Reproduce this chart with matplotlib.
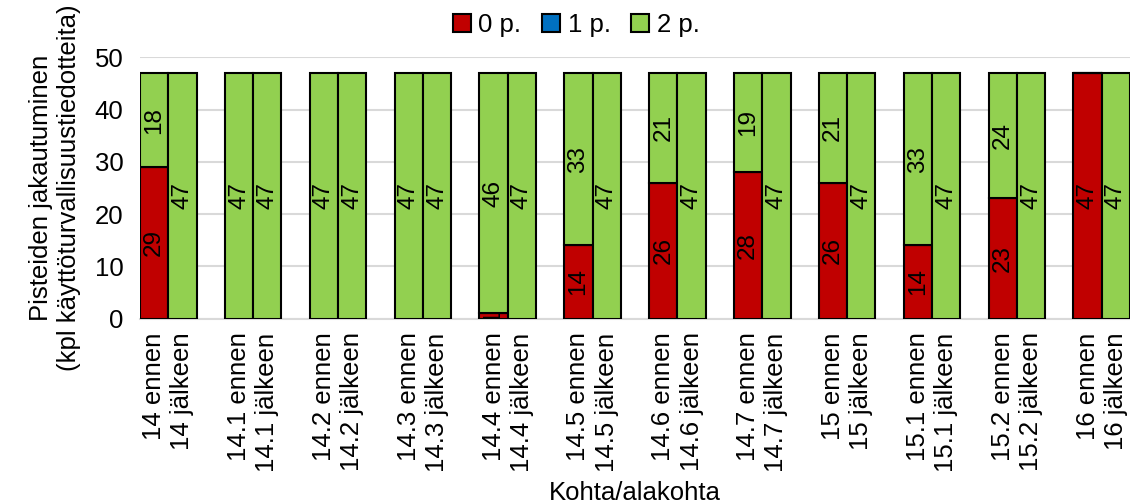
import numpy as np
import matplotlib.pyplot as plt

plt.rcParams['font.family'] = ['Liberation Sans', 'DejaVu Sans']

groups = ['14', '14.1', '14.2', '14.3', '14.4', '14.5', '14.6', '14.7',
          '15', '15.1', '15.2', '16']
# ennen (before) values
ennen_0 = [29, 0, 0, 0, 1, 14, 26, 28, 26, 14, 23, 47]
ennen_1 = [0] * 12
ennen_2 = [18, 47, 47, 47, 46, 33, 21, 19, 21, 33, 24, 0]
# jälkeen (after) values
jalkeen_0 = [0] * 12
jalkeen_1 = [0] * 12
jalkeen_2 = [47] * 12

series_names = ['0 p.', '1 p.', '2 p.']
colors = ['#C00000', '#0070C0', '#92D050']

# build slots: ennen, jälkeen, blank
pos, labels, v0, v1, v2 = [], [], [], [], []
for i, g in enumerate(groups):
    pos += [3 * i, 3 * i + 1]
    labels += [g + ' ennen', g + ' jälkeen']
    v0 += [ennen_0[i], jalkeen_0[i]]
    v1 += [ennen_1[i], jalkeen_1[i]]
    v2 += [ennen_2[i], jalkeen_2[i]]
pos = np.array(pos)
stack = [np.array(v0), np.array(v1), np.array(v2)]

fig = plt.figure(figsize=(11.3, 5.04), dpi=100)
ax = fig.add_axes([140 / 1130, 1 - 318.5 / 504, 990 / 1130, 261 / 504])

bottom = np.zeros(len(pos))
handles = []
for vals, name, c in zip(stack, series_names, colors):
    b = ax.bar(pos, vals, width=1.0, bottom=bottom, color=c,
               edgecolor='black', linewidth=1.5, label=name, zorder=3)
    handles.append(b)
    for x, v, bt in zip(pos, vals, bottom):
        if v > 0:
            ax.text(x, bt + v / 2, str(v), rotation=90, ha='center',
                    va='center', fontsize=17.5, color='black', zorder=4,
                    clip_on=True)
    bottom = bottom + vals

ax.set_xlim(-0.5, 34.5)
ax.set_ylim(0, 50)
ax.set_yticks(range(0, 51, 10))
ax.set_xticks(pos)
ax.set_xticklabels(labels, rotation=90, fontsize=18.5)
ax.tick_params(axis='y', labelsize=18.5, length=0, pad=12)
ax.tick_params(axis='x', length=0, pad=10)
ax.grid(axis='y', color='#D9D9D9', linewidth=1.5, zorder=0)
for s in ['top', 'right', 'left']:
    ax.spines[s].set_visible(False)
ax.spines['bottom'].set_color('#D9D9D9')
ax.spines['bottom'].set_linewidth(1.5)

ax.set_ylabel('Pisteiden jakautuminen\n(kpl käyttöturvallisuustiedotteita)',
              fontsize=18.5, labelpad=10)
ax.set_xlabel('Kohta/alakohta', fontsize=18.5, labelpad=7)

fig.legend(handles=handles, loc='upper center', ncol=3, frameon=False,
           fontsize=18.5, bbox_to_anchor=(0.51, 1.02), handlelength=0.7,
           handleheight=0.7, handletextpad=0.3, columnspacing=0.8)

fig.savefig('out.png', dpi=100)
